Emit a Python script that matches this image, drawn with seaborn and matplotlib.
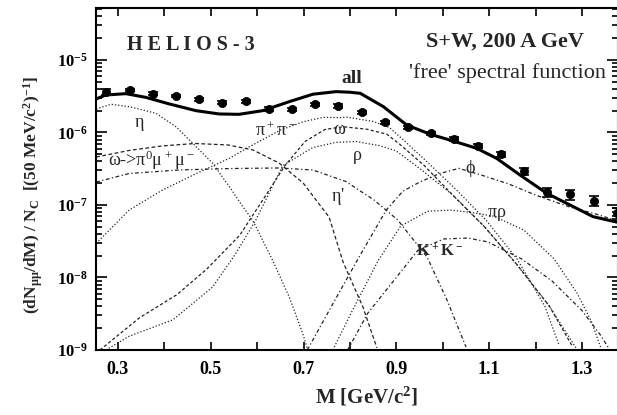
import numpy as np
import pandas as pd
import matplotlib
matplotlib.use("Agg")
import matplotlib.pyplot as plt
import matplotlib.ticker as mticker
import seaborn as sns

sns.set_style("ticks")
plt.rcParams["font.family"] = ["Liberation Serif", "DejaVu Serif"]
plt.rcParams["mathtext.default"] = "regular"

# Measured dimuon spectrum (50 MeV bins)
mass_data = [0.275, 0.325, 0.375, 0.425, 0.475, 0.525, 0.575, 0.625, 0.675, 0.725,
             0.775, 0.825, 0.875, 0.925, 0.975, 1.025, 1.075, 1.125, 1.175, 1.225,
             1.275, 1.325, 1.375]
yield_data = [3.65e-6, 3.85e-6, 3.43e-6, 3.19e-6, 2.87e-6, 2.58e-6, 2.69e-6, 2.11e-6,
              2.09e-6, 2.45e-6, 2.32e-6, 1.90e-6, 1.38e-6, 1.18e-6, 9.7e-7, 8.1e-7,
              6.6e-7, 5.0e-7, 2.9e-7, 1.5e-7, 1.4e-7, 1.15e-7, 7.7e-8]
rel_err = [0.10, 0.04, 0.04, 0.04, 0.04, 0.04, 0.04, 0.05, 0.05, 0.05, 0.05, 0.05,
           0.05, 0.05, 0.06, 0.06, 0.06, 0.07, 0.10, 0.15, 0.15, 0.15, 0.18]

# Model: sum of all sources
m_all = [0.253, 0.274, 0.317, 0.360, 0.411, 0.468, 0.518, 0.561, 0.612, 0.669, 0.720,
         0.770, 0.800, 0.822, 0.872, 0.922, 0.972, 1.023, 1.073, 1.116, 1.166, 1.224,
         1.281, 1.324, 1.378]
y_all = [2.90e-6, 3.29e-6, 3.43e-6, 3.05e-6, 2.47e-6, 2.00e-6, 1.80e-6, 1.78e-6, 2.00e-6,
         2.66e-6, 3.37e-6, 3.66e-6, 3.59e-6, 3.47e-6, 2.27e-6, 1.27e-6, 9.5e-7, 7.6e-7,
         6.05e-7, 4.4e-7, 2.6e-7, 1.45e-7, 9.5e-8, 6.9e-8, 5.75e-8]

# Individual sources
m_eta = [0.253, 0.285, 0.324, 0.382, 0.425, 0.461, 0.504, 0.540, 0.569, 0.590, 0.633,
         0.669, 0.698, 0.709]
y_eta = [2.11e-6, 2.45e-6, 2.27e-6, 1.84e-6, 1.20e-6, 7.1e-7, 3.76e-7, 1.79e-7, 9.5e-8,
         6.2e-8, 1.74e-8, 5.4e-9, 1.7e-9, 1.0e-9]

m_omega_dalitz = [0.253, 0.324, 0.395, 0.466, 0.537, 0.591, 0.647, 0.699, 0.755, 0.785,
                  0.828, 0.858]
y_omega_dalitz = [4.59e-7, 5.65e-7, 6.52e-7, 7.05e-7, 6.73e-7, 5.74e-7, 3.79e-7, 2.01e-7,
                  6.8e-8, 1.64e-8, 3.9e-9, 1.07e-9]

m_etap = [0.253, 0.324, 0.432, 0.539, 0.647, 0.720, 0.791, 0.852, 0.903, 0.966, 1.009, 1.050]
y_etap = [2.07e-7, 2.72e-7, 3.04e-7, 3.18e-7, 3.24e-7, 3.04e-7, 2.11e-7, 1.17e-7, 6.2e-8,
          1.92e-8, 4.9e-9, 1.1e-9]

m_pipi = [0.253, 0.324, 0.396, 0.468, 0.540, 0.578, 0.650, 0.700, 0.743, 0.778, 0.793,
          0.850, 0.885, 0.915, 0.965, 1.030, 1.095, 1.160, 1.220, 1.250]
y_pipi = [2.96e-8, 8.5e-8, 1.61e-7, 2.7e-7, 4.4e-7, 6.1e-7, 1.08e-6, 1.41e-6, 1.62e-6,
          1.60e-6, 1.63e-6, 1.42e-6, 1.17e-6, 7.9e-7, 4.0e-7, 1.6e-7, 6.0e-8, 1.8e-8,
          4.0e-9, 1.2e-9]

m_rho = [0.274, 0.324, 0.418, 0.504, 0.554, 0.597, 0.655, 0.720, 0.770, 0.813, 0.863,
         0.899, 0.950, 1.020, 1.090, 1.160, 1.230, 1.290]
y_rho = [1.0e-9, 1.55e-9, 2.6e-9, 7.4e-9, 2.15e-8, 6.2e-8, 3.5e-7, 6.2e-7, 7.3e-7, 7.5e-7,
         6.6e-7, 5.6e-7, 3.2e-7, 1.4e-7, 5.0e-8, 1.5e-8, 4.0e-9, 1.0e-9]

m_omega = [0.261, 0.347, 0.427, 0.491, 0.562, 0.612, 0.660, 0.703, 0.746, 0.785, 0.836,
           0.879, 0.907, 0.960, 1.020, 1.090, 1.160, 1.230, 1.280]
y_omega = [1.0e-9, 2.8e-9, 5.8e-9, 1.3e-8, 3.8e-8, 1.17e-7, 3.5e-7, 7.5e-7, 1.1e-6,
           1.20e-6, 1.11e-6, 9.5e-7, 6.9e-7, 3.5e-7, 1.4e-7, 5.0e-8, 1.5e-8, 4.0e-9, 1.1e-9]

m_phi = [0.708, 0.760, 0.815, 0.878, 0.914, 0.949, 0.992, 1.035, 1.086, 1.142, 1.200,
         1.271, 1.330, 1.378]
y_phi = [1.0e-9, 4.0e-9, 1.7e-8, 8.5e-8, 1.55e-7, 2.05e-7, 2.70e-7, 3.20e-7, 2.55e-7,
         1.95e-7, 1.37e-7, 9.5e-8, 7.5e-8, 6.0e-8]

m_pirho = [0.763, 0.802, 0.860, 0.909, 0.967, 1.017, 1.067, 1.110, 1.175, 1.240, 1.290,
           1.320, 1.340]
y_pirho = [1.0e-9, 3.2e-9, 1.68e-8, 5.1e-8, 8.2e-8, 8.5e-8, 7.8e-8, 7.0e-8, 4.5e-8,
           1.8e-8, 6.0e-9, 2.5e-9, 1.1e-9]

m_kk = [0.795, 0.838, 0.894, 0.946, 1.002, 1.054, 1.097, 1.170, 1.235, 1.300, 1.340, 1.360]
y_kk = [1.0e-9, 3.2e-9, 9.0e-9, 2.36e-8, 3.4e-8, 3.5e-8, 3.1e-8, 1.8e-8, 9.0e-9, 3.5e-9,
        1.6e-9, 1.0e-9]

# Axis ticks
x_major = [0.3, 0.5, 0.7, 0.9, 1.1, 1.3]
x_minor = [0.4, 0.6, 0.8, 1.0, 1.2]
y_exponents = [-9, -8, -7, -6, -5]

components = [
    ("eta", m_eta, y_eta, (0, (1, 1.6))),
    ("omega_dalitz", m_omega_dalitz, y_omega_dalitz, (0, (3, 2))),
    ("etap", m_etap, y_etap, (0, (3, 2, 1, 2))),
    ("pipi", m_pipi, y_pipi, (0, (1, 1.6))),
    ("rho", m_rho, y_rho, (0, (1, 1.6))),
    ("omega", m_omega, y_omega, (0, (2.5, 1.8))),
    ("phi", m_phi, y_phi, (0, (3, 2, 1, 2))),
    ("pirho", m_pirho, y_pirho, (0, (1, 1.6))),
    ("kk", m_kk, y_kk, (0, (3, 2, 1, 2))),
]

fig = plt.figure(figsize=(6.17, 4.15), dpi=100)
ax = fig.add_axes([96 / 617, 65 / 415, 522 / 617, 342 / 415])

for name, m, y, ls in components:
    df = pd.DataFrame({"M": m, "dN": y})
    sns.lineplot(data=df, x="M", y="dN", ax=ax, color="#222222", lw=0.9,
                 linestyle=ls, sort=False, estimator=None)

df_all = pd.DataFrame({"M": m_all, "dN": y_all})
sns.lineplot(data=df_all, x="M", y="dN", ax=ax, color="black", lw=2.2,
             sort=False, estimator=None)

df_data = pd.DataFrame({"M": mass_data, "dN": yield_data})
err = np.array(yield_data) * np.array(rel_err)
ax.errorbar(mass_data, yield_data, yerr=err, fmt="none", ecolor="black",
            elinewidth=1.2, capsize=3.5, capthick=1.2, zorder=4)
sns.scatterplot(data=df_data, x="M", y="dN", ax=ax, color="black", marker="o",
                s=34, edgecolor="black", linewidth=0.6, zorder=5)

ax.set_yscale("log")
ax.set_xlim(0.2526, 1.3776)
ax.set_ylim(1e-9, 5.21e-5)

ax.xaxis.set_major_locator(mticker.FixedLocator(x_major))
ax.xaxis.set_minor_locator(mticker.FixedLocator(x_minor))
ax.xaxis.set_major_formatter(mticker.FormatStrFormatter("%.1f"))

y_major = [10.0 ** e for e in y_exponents]
y_minor = [k * 10.0 ** e for e in y_exponents[:-1] for k in range(2, 10)]
y_minor += [k * 1e-5 for k in range(2, 6)]
ax.yaxis.set_major_locator(mticker.FixedLocator(y_major))
ax.yaxis.set_minor_locator(mticker.FixedLocator(y_minor))
ax.yaxis.set_minor_formatter(mticker.NullFormatter())
ax.yaxis.set_major_formatter(mticker.FixedFormatter(
    [r"$10^{%d}$" % e for e in y_exponents]))

ax.tick_params(axis="both", which="both", direction="in", top=True, right=True,
               width=1.2, colors="black")
ax.tick_params(axis="x", which="both", length=6, labelsize=13, pad=8)
ax.tick_params(axis="y", which="major", length=8, labelsize=12, pad=6)
ax.tick_params(axis="y", which="minor", length=4)
for lab in ax.get_xticklabels() + ax.get_yticklabels():
    lab.set_fontweight("bold")
for sp in ax.spines.values():
    sp.set_linewidth(1.5)
    sp.set_color("black")

ax.set_xlabel(r"M [GeV/c$^2$]", fontsize=15, fontweight="bold")
ax.xaxis.set_label_coords(0.518, -0.103)
ax.set_ylabel(r"(dN$_{\mu\mu}$/dM) / N$_C$  [(50 MeV/c$^2$)$^{-1}$]", fontsize=12.5,
              fontweight="bold")
ax.yaxis.set_label_coords(-0.097, 0.453)

tr = ax.transAxes
ax.text(0.182, 0.892, "H E L I O S - 3", transform=tr, fontsize=14.5, fontweight="bold",
        ha="center", va="center")
ax.text(0.784, 0.901, "S+W, 200 A GeV", transform=tr, fontsize=16, fontweight="bold",
        ha="center", va="center")
ax.text(0.789, 0.810, "'free' spectral function", transform=tr, fontsize=16,
        ha="center", va="center")
ax.text(0.490, 0.795, "all", transform=tr, fontsize=14, fontweight="bold",
        ha="center", va="center")
labels = [
    (0.082, 0.658, r"$\eta$"),
    (0.345, 0.640, r"$\pi^+\pi^-$"),
    (0.466, 0.646, r"$\omega$"),
    (0.500, 0.564, r"$\rho$"),
    (0.107, 0.556, r"$\omega$->$\pi^0\mu^+\mu^-$"),
    (0.464, 0.450, r"$\eta$'"),
    (0.718, 0.532, r"$\phi$"),
    (0.768, 0.395, r"$\pi\rho$"),
]
for x, y, s in labels:
    ax.text(x, y, s, transform=tr, fontsize=13, ha="center", va="center")
ax.text(0.659, 0.287, r"K$^+$K$^-$", transform=tr, fontsize=12, fontweight="bold",
        ha="center", va="center")

fig.savefig("out.png", dpi=100)
